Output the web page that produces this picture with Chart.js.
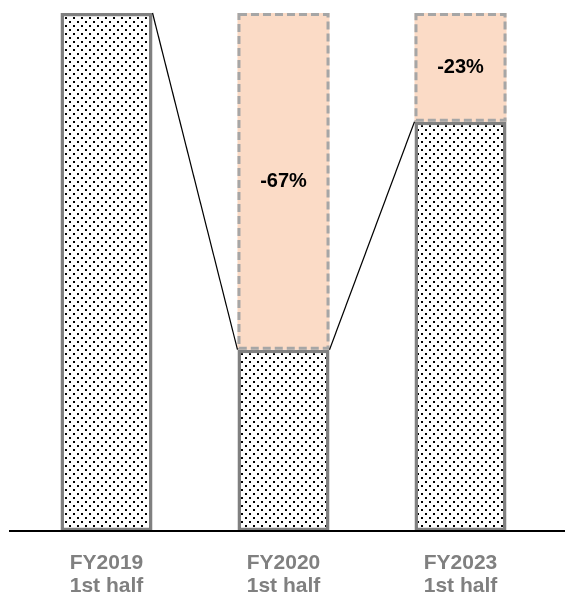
<!DOCTYPE html>
<html>
<head>
<meta charset="utf-8">
<script src="https://cdn.jsdelivr.net/npm/chart.js@4"></script>
<style>
    body { margin: 0; background: #fff; }
    #wrap { width: 565px; height: 600px; }
</style>
</head>
<body>
<div id="wrap"><canvas id="dropChart" width="565" height="600"></canvas></div>
<script>
// chart data
const categories = [["FY2019", "1st half"], ["FY2020", "1st half"], ["FY2023", "1st half"]];
const baseValues = [100, 35, 79];
const dropValues = [0, 65, 21];
const dropLabels = ["", "-67%", "-23%"];

const FONT = "'Liberation Sans', Arial, sans-serif";

// dotted fill for the solid bars
function makeDotPattern() {
    const tile = document.createElement("canvas");
    tile.width = 8;
    tile.height = 8;
    const t = tile.getContext("2d");
    t.fillStyle = "#fff";
    t.fillRect(0, 0, 8, 8);
    t.fillStyle = "#000";
    t.fillRect(1, 1, 2, 2);
    t.fillRect(5, 5, 2, 2);
    return t.createPattern(tile, "repeat");
}

// baseline, connectors, dashed outline and drop labels
const dropDecor = {
    id: "dropDecor",
    afterDatasetsDraw(chart) {
        const ctx = chart.ctx;
        const baseBars = chart.getDatasetMeta(0).data;
        const dropBars = chart.getDatasetMeta(1).data;
        const y0 = chart.scales.y.getPixelForValue(0);

        ctx.save();
        // dashed outline of the drop segments
        ctx.strokeStyle = "#a6a6a6";
        ctx.lineWidth = 3;
        ctx.setLineDash([8, 4]);
        dropBars.forEach((bar, i) => {
            if (!dropValues[i]) return;
            const left = bar.x - bar.width / 2 + 1.5;
            const right = bar.x + bar.width / 2 - 1.5;
            ctx.strokeRect(left, bar.y + 1.5, right - left, bar.base - bar.y - 3);
        });
        ctx.setLineDash([]);

        // connector lines between tops of the solid bars
        ctx.strokeStyle = "#000";
        ctx.lineWidth = 1.2;
        for (let i = 0; i < baseBars.length - 1; i++) {
            const a = baseBars[i];
            const b = baseBars[i + 1];
            ctx.beginPath();
            ctx.moveTo(a.x + a.width / 2, a.y);
            ctx.lineTo(b.x - b.width / 2, b.y);
            ctx.stroke();
        }

        // baseline
        ctx.lineWidth = 2;
        ctx.beginPath();
        ctx.moveTo(9, y0);
        ctx.lineTo(chart.width, y0);
        ctx.stroke();

        // labels
        ctx.fillStyle = "#000";
        ctx.font = "bold 20px " + FONT;
        ctx.textAlign = "center";
        ctx.textBaseline = "middle";
        dropBars.forEach((bar, i) => {
            if (!dropLabels[i]) return;
            ctx.fillText(dropLabels[i], bar.x, (bar.y + bar.base) / 2);
        });
        ctx.restore();
    }
};

new Chart(document.getElementById("dropChart"), {
    type: "bar",
    data: {
        labels: categories,
        datasets: [
            {
                data: baseValues,
                backgroundColor: makeDotPattern(),
                borderColor: "#808080",
                borderWidth: 3.5,
                borderSkipped: false,
                categoryPercentage: 1,
                barPercentage: 0.52,
            },
            {
                data: dropValues,
                backgroundColor: "#fbdbc6",
                borderWidth: 0,
                categoryPercentage: 1,
                barPercentage: 0.52,
            },
        ],
    },
    plugins: [dropDecor],
    options: {
        responsive: false,
        animation: false,
        layout: { padding: { left: 18, right: 16, top: 13, bottom: 2 } },
        plugins: {
            legend: { display: false },
            tooltip: { enabled: false },
        },
        scales: {
            x: {
                stacked: true,
                grid: { display: false },
                border: { display: false },
                afterFit(scale) {
                    scale.height = 67;
                },
                ticks: {
                    color: "#808080",
                    padding: 12,
                    font: { family: FONT, size: 21, weight: "bold", lineHeight: 1.12 },
                },
            },
            y: {
                stacked: true,
                display: false,
                min: 0,
                max: 100,
            },
        },
    },
});
</script>
</body>
</html>
